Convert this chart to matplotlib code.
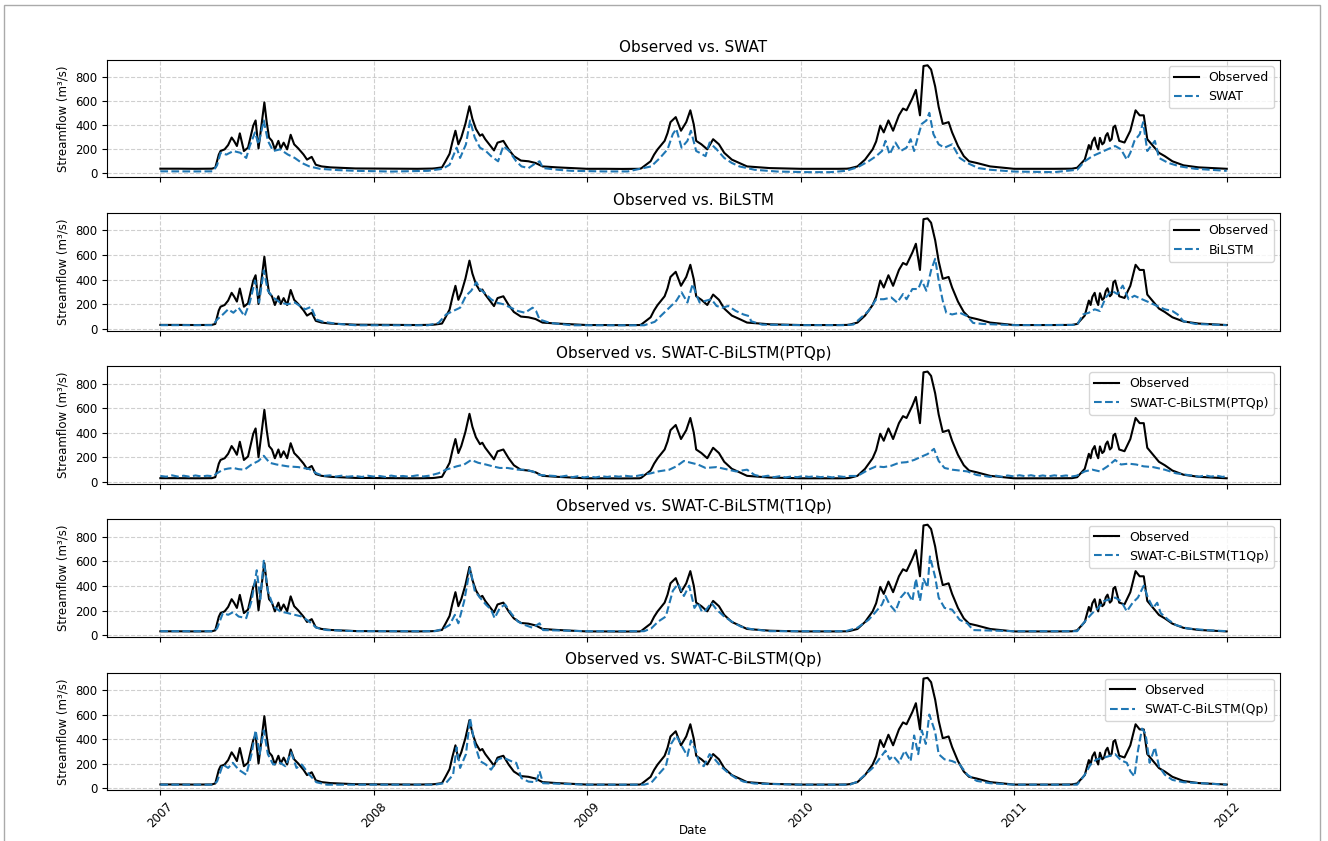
import numpy as np
import pandas as pd
import matplotlib
matplotlib.use("Agg")
import matplotlib.pyplot as plt
import matplotlib.dates as mdates
from matplotlib.patches import Rectangle

START = "2007-01-01"

# (days since 2007-01-01, streamflow m3/s)
observed = [
    (0, 32), (30, 32), (60, 31), (88, 32), (94, 40), (100, 150), (103, 180), (110, 194), (116, 230),
    (122, 293), (126, 265), (131, 222), (136, 328), (143, 180), (150, 208), (159, 393), (163, 436),
    (168, 202), (178, 587), (182, 422), (186, 293), (191, 265), (196, 194), (202, 265), (206, 202),
    (211, 250), (217, 194), (223, 316), (229, 236), (236, 202), (245, 151), (251, 108), (259, 131),
    (266, 65), (276, 51), (291, 43), (334, 34),
    (365, 33), (400, 32), (440, 31), (465, 33), (470, 35), (482, 43), (488, 94), (495, 157), (500, 260),
    (505, 350), (510, 236), (515, 293), (522, 407), (529, 555), (534, 450), (540, 365), (547, 308),
    (551, 320), (556, 279), (565, 222), (571, 185), (577, 250), (587, 265), (596, 194), (605, 137),
    (617, 100), (630, 94), (642, 80), (654, 51), (679, 43), (730, 31),
    (760, 31), (790, 30), (820, 31), (823, 35), (839, 94), (845, 150), (851, 194), (857, 230),
    (863, 265), (868, 330), (873, 422), (882, 464), (891, 350), (900, 422), (907, 521), (913, 400),
    (917, 265), (926, 236), (936, 194), (946, 279), (956, 236), (965, 165), (978, 108), (991, 80),
    (1004, 51), (1043, 37), (1096, 31),
    (1130, 31), (1160, 31), (1175, 32), (1180, 35), (1193, 51), (1206, 108), (1219, 194), (1225, 260),
    (1232, 393), (1238, 336), (1246, 436), (1254, 350), (1264, 479), (1271, 536), (1277, 521),
    (1287, 621), (1293, 692), (1300, 479), (1306, 892), (1313, 898), (1319, 863), (1326, 721),
    (1332, 550), (1339, 407), (1349, 422), (1355, 336), (1365, 222), (1375, 137), (1384, 94),
    (1397, 80), (1420, 51), (1461, 31),
    (1490, 31), (1530, 31), (1560, 32), (1569, 40), (1582, 108), (1589, 230), (1592, 194), (1595, 260),
    (1599, 293), (1602, 230), (1605, 194), (1608, 290), (1612, 236), (1615, 250), (1618, 308),
    (1621, 330), (1625, 265), (1628, 280), (1631, 380), (1634, 393), (1641, 265), (1650, 251),
    (1660, 350), (1669, 521), (1676, 479), (1683, 479), (1689, 279), (1699, 222), (1709, 165),
    (1719, 137), (1732, 94), (1751, 60), (1777, 43), (1825, 31),
]

swat = [
    (0, 10), (60, 9), (90, 10), (97, 60), (103, 165), (113, 150), (125, 180), (137, 165), (147, 122),
    (153, 222), (162, 336), (168, 236), (177, 436), (184, 265), (193, 180), (205, 194), (218, 151),
    (230, 122), (242, 80), (255, 51), (273, 31), (304, 20), (335, 14), (396, 8), (458, 14),
    (483, 31), (495, 65), (507, 208), (513, 122), (523, 236), (530, 436), (538, 293), (547, 208),
    (557, 180), (566, 137), (578, 94), (587, 222), (597, 180), (609, 94), (618, 51), (630, 37),
    (643, 80), (649, 94), (655, 37), (680, 23), (704, 14), (760, 9), (800, 9),
    (840, 51), (855, 122), (868, 194), (877, 322), (883, 365), (892, 208), (902, 265), (908, 350),
    (917, 180), (923, 165), (933, 137), (940, 251), (952, 194), (965, 122), (978, 80), (991, 51),
    (1017, 23), (1056, 8), (1108, 3), (1147, 3),
    (1173, 14), (1193, 43), (1212, 94), (1225, 137), (1235, 180), (1241, 265), (1248, 151),
    (1258, 251), (1267, 180), (1277, 208), (1284, 279), (1290, 180), (1297, 308), (1303, 407),
    (1311, 436), (1316, 500), (1323, 322), (1332, 236), (1342, 208), (1355, 236), (1368, 122),
    (1381, 80), (1400, 37), (1420, 23), (1461, 8), (1530, 3),
    (1569, 23), (1582, 94), (1595, 137), (1608, 165), (1621, 194), (1634, 222), (1644, 194),
    (1654, 108), (1660, 165), (1667, 265), (1676, 320), (1682, 422), (1689, 180), (1702, 265),
    (1709, 122), (1725, 80), (1745, 51), (1771, 31), (1825, 14),
]

bilstm = [
    (0, 30), (90, 30), (97, 76), (107, 117), (116, 159), (125, 131), (134, 172), (144, 103),
    (153, 214), (162, 393), (169, 214), (177, 476), (184, 310), (193, 255), (205, 214), (218, 200),
    (230, 214), (239, 186), (248, 159), (258, 179), (267, 76), (279, 57), (304, 40), (335, 29),
    (458, 29), (476, 48), (489, 117), (501, 145), (513, 172), (523, 269), (532, 310), (541, 379),
    (547, 324), (557, 283), (566, 241), (575, 214), (587, 200), (600, 172), (612, 145), (624, 131),
    (637, 172), (643, 145), (649, 76), (667, 48), (704, 29),
    (828, 29), (846, 57), (859, 117), (871, 172), (883, 228), (892, 297), (902, 214), (911, 365),
    (918, 269), (923, 214), (933, 228), (943, 241), (952, 186), (962, 172), (972, 186), (985, 145),
    (998, 117), (1008, 103), (1011, 62), (1030, 34), (1096, 30),
    (1173, 30), (1186, 35), (1199, 90), (1212, 145), (1225, 241), (1238, 241), (1251, 255),
    (1261, 214), (1271, 283), (1277, 241), (1287, 324), (1297, 324), (1303, 393), (1311, 310),
    (1319, 476), (1326, 570), (1332, 393), (1339, 228), (1345, 131), (1355, 117), (1368, 131),
    (1381, 103), (1391, 48), (1407, 40), (1461, 30),
    (1569, 32), (1579, 117), (1589, 131), (1599, 159), (1608, 145), (1618, 255), (1628, 310),
    (1638, 283), (1647, 352), (1657, 241), (1667, 269), (1680, 241), (1693, 214), (1706, 186),
    (1719, 159), (1732, 145), (1741, 117), (1751, 62), (1771, 40), (1825, 30),
]

ptqp = [
    (0, 50), (10, 44), (20, 55), (30, 45), (40, 52), (50, 44), (60, 54), (70, 46), (80, 52), (90, 48),
    (97, 72), (107, 101), (116, 110), (125, 115), (134, 105), (144, 101), (156, 143), (168, 172),
    (177, 214), (187, 157), (199, 143), (218, 128), (236, 122), (255, 106), (267, 72), (279, 50),
    (290, 55), (300, 45), (310, 52), (320, 44), (334, 50), (345, 42), (355, 52), (365, 45),
    (375, 50), (385, 42), (395, 53), (405, 45), (415, 50), (425, 44), (440, 55), (450, 46), (460, 52),
    (476, 72), (489, 101), (507, 128), (520, 143), (532, 180), (544, 157), (557, 143), (569, 128),
    (581, 115), (594, 115), (612, 101), (624, 101), (637, 87), (649, 58), (674, 50),
    (685, 44), (695, 52), (705, 40), (715, 48), (725, 38),
    (735, 45), (745, 38), (755, 48), (765, 42), (775, 50), (785, 44), (795, 52), (805, 46), (815, 50),
    (840, 72), (852, 87), (871, 101), (883, 128), (896, 172), (908, 157), (920, 143), (933, 115),
    (952, 122), (972, 101), (985, 87), (1004, 101), (1017, 58),
    (1030, 44), (1040, 52), (1050, 40), (1060, 48), (1070, 38), (1080, 46), (1090, 40), (1100, 50),
    (1110, 42), (1120, 48), (1130, 40), (1140, 46), (1150, 38), (1160, 48), (1170, 42), (1180, 50),
    (1193, 50), (1212, 101), (1225, 128), (1238, 122), (1251, 133), (1264, 157), (1277, 162),
    (1290, 180), (1303, 208), (1313, 228), (1324, 270), (1332, 172), (1342, 115), (1355, 101),
    (1368, 94), (1381, 87), (1397, 58),
    (1410, 50), (1420, 42), (1430, 52), (1440, 44), (1450, 54), (1461, 46), (1470, 56), (1480, 48),
    (1490, 56), (1500, 46), (1510, 54), (1520, 47), (1530, 55), (1540, 48), (1550, 54), (1560, 46),
    (1568, 52), (1582, 87), (1595, 101), (1608, 87), (1621, 128), (1634, 180), (1644, 143),
    (1657, 150), (1670, 143), (1683, 128), (1699, 122), (1719, 101), (1738, 72), (1758, 58),
    (1768, 52), (1778, 44), (1788, 55), (1798, 45), (1808, 52), (1818, 42), (1825, 50),
]

t1qp = [
    (0, 33), (90, 33), (97, 55), (107, 180), (116, 166), (125, 189), (134, 152), (147, 139),
    (156, 278), (165, 528), (171, 292), (177, 605), (184, 361), (193, 236), (205, 194), (218, 180),
    (230, 166), (242, 152), (255, 111), (267, 61), (285, 42), (335, 33),
    (470, 33), (483, 50), (495, 83), (504, 166), (510, 97), (520, 278), (530, 545), (538, 361),
    (547, 306), (557, 250), (566, 208), (572, 139), (581, 222), (590, 250), (600, 180), (612, 111),
    (624, 83), (637, 61), (649, 97), (655, 42), (731, 33),
    (828, 33), (840, 55), (852, 111), (865, 152), (877, 361), (886, 417), (896, 319), (905, 403),
    (914, 222), (920, 264), (927, 189), (933, 200), (943, 264), (952, 208), (965, 152), (978, 111),
    (994, 69), (1011, 50), (1043, 33), (1096, 33),
    (1173, 33), (1193, 61), (1212, 125), (1225, 194), (1235, 250), (1241, 319), (1248, 250),
    (1258, 194), (1267, 306), (1277, 361), (1287, 278), (1293, 458), (1300, 278), (1306, 458),
    (1313, 389), (1317, 640), (1326, 472), (1332, 306), (1342, 222), (1355, 208), (1368, 125),
    (1381, 97), (1391, 42), (1461, 33),
    (1569, 33), (1582, 111), (1595, 180), (1605, 222), (1615, 278), (1625, 292), (1634, 306),
    (1644, 278), (1654, 194), (1664, 264), (1673, 306), (1683, 403), (1690, 306), (1699, 222),
    (1706, 264), (1712, 180), (1725, 125), (1738, 83), (1758, 55), (1790, 42), (1825, 33),
]

qp = [
    (0, 30), (90, 30), (97, 55), (107, 194), (116, 166), (124, 208), (134, 152), (147, 111),
    (156, 278), (163, 472), (170, 278), (177, 472), (184, 278), (193, 194), (205, 208), (214, 180),
    (224, 292), (233, 166), (242, 194), (255, 111), (267, 50), (285, 30),
    (470, 30), (489, 45), (501, 111), (507, 333), (513, 166), (523, 278), (530, 569), (538, 361),
    (547, 222), (557, 194), (566, 152), (578, 236), (587, 250), (600, 222), (609, 208), (618, 83),
    (630, 55), (643, 50), (649, 139), (655, 42), (731, 30),
    (828, 30), (840, 45), (852, 111), (865, 180), (874, 361), (883, 430), (892, 347), (902, 264),
    (908, 389), (917, 300), (922, 208), (930, 180), (940, 278), (949, 236), (959, 180), (972, 125),
    (985, 83), (998, 55), (1017, 39), (1096, 30),
    (1180, 30), (1193, 55), (1206, 111), (1219, 166), (1232, 250), (1241, 306), (1248, 236),
    (1254, 264), (1264, 208), (1274, 306), (1284, 222), (1290, 430), (1297, 278), (1303, 472),
    (1310, 361), (1316, 600), (1326, 458), (1332, 278), (1342, 236), (1355, 222), (1368, 194),
    (1381, 111), (1397, 61), (1420, 42), (1461, 30),
    (1569, 30), (1582, 111), (1592, 194), (1602, 236), (1615, 250), (1625, 264), (1634, 278),
    (1644, 228), (1654, 208), (1660, 139), (1667, 97), (1673, 306), (1680, 486), (1686, 444),
    (1693, 208), (1702, 333), (1709, 180), (1719, 111), (1732, 69), (1751, 50), (1825, 30),
]

models = [
    ("SWAT", swat),
    ("BiLSTM", bilstm),
    ("SWAT-C-BiLSTM(PTQp)", ptqp),
    ("SWAT-C-BiLSTM(T1Qp)", t1qp),
    ("SWAT-C-BiLSTM(Qp)", qp),
]


def to_series(pairs):
    d = np.array([p[0] for p in pairs], dtype=float)
    v = np.array([p[1] for p in pairs], dtype=float)
    t = pd.Timestamp(START) + pd.to_timedelta(d, unit="D")
    return t, v


plt.rcParams["font.family"] = ["DejaVu Sans"]
fig, axes = plt.subplots(5, 1, figsize=(13.28, 8.41), dpi=100, sharex=True)
fig.subplots_adjust(left=0.0806, right=0.9639, top=0.9287, bottom=0.0606, hspace=0.303)

ot, ov = to_series(observed)
for ax, (name, pairs) in zip(axes, models):
    mt, mv = to_series(pairs)
    ax.plot(ot, ov, color="black", lw=1.5, label="Observed")
    ax.plot(mt, mv, color="#1f77b4", lw=1.5, ls="--", label=name)
    ax.set_title(f"Observed vs. {name}", fontsize=11)
    ax.set_ylabel("Streamflow (m³/s)", fontsize=8.5)
    ax.set_yticks([0, 200, 400, 600, 800])
    ax.tick_params(labelsize=8.5)
    ax.grid(True, linestyle="--", alpha=0.6)
    ax.legend(loc="upper right", fontsize=9)

axes[-1].xaxis.set_major_locator(mdates.YearLocator())
axes[-1].xaxis.set_major_formatter(mdates.DateFormatter("%Y"))
for lab in axes[-1].get_xticklabels():
    lab.set_rotation(45)
axes[-1].set_xlabel("Date", fontsize=8.5)
axes[-1].xaxis.set_label_coords(0.5, -0.29)

fig.patches.append(Rectangle((4 / 1328, -0.01), 1316 / 1328, 1 - 5 / 841 + 0.01,
                             transform=fig.transFigure, fill=False, edgecolor="#aaaaaa", lw=1))

fig.savefig("out.png", dpi=100)
